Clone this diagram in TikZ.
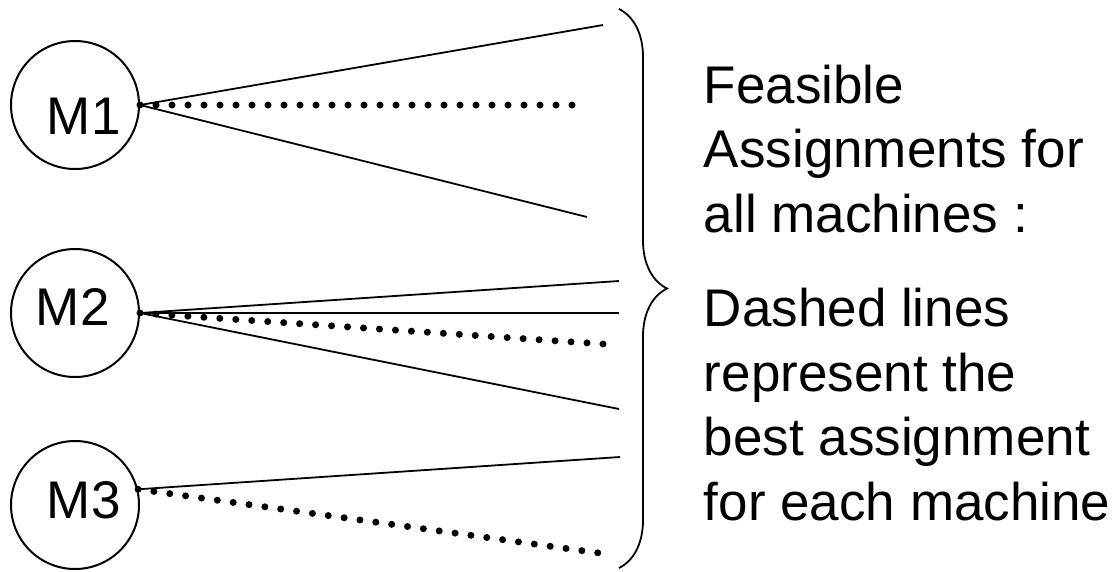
\documentclass[tikz,border=0pt]{standalone}
\usepackage{fontspec}
\setmainfont{Liberation Sans}
\usetikzlibrary{decorations.pathreplacing}

\begin{document}
\begin{tikzpicture}[x=1pt, y=-1pt, line width=1.8pt,
        machine/.style={draw, circle, minimum size=128pt, inner sep=0pt, line width=2pt},
        big/.style={font=\fontsize{53}{64.5}\selectfont, inner sep=0pt, anchor=base west},
        best/.style={line width=7pt, line cap=round, dash pattern=on 0pt off 16pt}]
    \useasboundingbox (0, 0) rectangle (1114, 571);
    \node[machine] (m1) at (75, 105) {};
    \node[machine] (m2) at (75, 313) {};
    \node[machine] (m3) at (75, 505) {};
    \node[big] (l1) at (46, 134) {M1};
    \node[big] (l2) at (35, 325) {M2};
    \node[big] (l3) at (46, 518) {M3};
    \coordinate (a1) at (603, 25);
    \coordinate (b1) at (587, 105);
    \coordinate (c1) at (587, 217);
    \coordinate (a2) at (619, 281);
    \coordinate (h2) at (619, 313);
    \coordinate (b2) at (618, 345);
    \coordinate (c2) at (619, 409);
    \coordinate (a3) at (620, 457);
    \coordinate (b3) at (599, 553);
    \draw (m1.east) -- (a1);
    \draw (m1.east) -- (c1);
    \draw[best] (m1.east) -- (b1);
    \draw (m2.east) -- (a2);
    \draw (m2.east) -- (h2);
    \draw (m2.east) -- (c2);
    \draw[best] (m2.east) -- (b2);
    \draw (m3.14) -- (a3);
    \draw[best] (m3.14) -- (b3);
    \draw[decorate, decoration={brace, amplitude=48pt}] (619, 9) -- (619, 568);
    \node[big, align=left] (t1) at (703, 232) {Feasible\\Assignments for\\all machines :};
    \node[big, align=left] (t2) at (703, 520) {Dashed lines\\represent the\\best assignment\\for each machine};
\end{tikzpicture}
\end{document}
